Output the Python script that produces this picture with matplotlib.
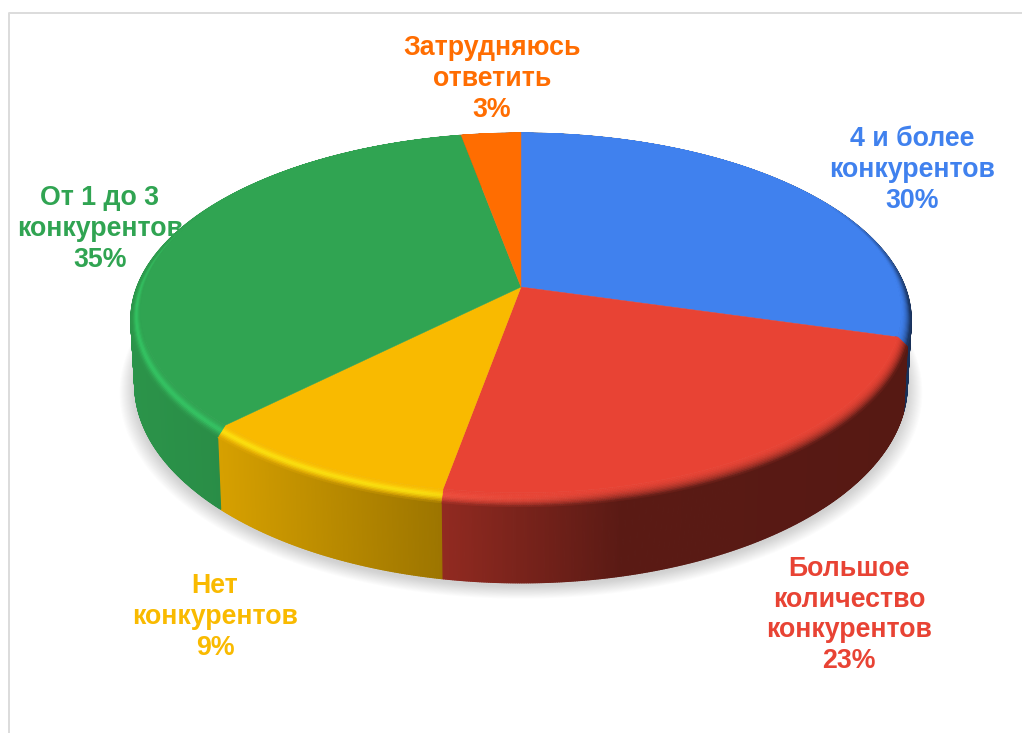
# -*- coding: utf-8 -*-
import numpy as np
import matplotlib
matplotlib.use('Agg')
import matplotlib.pyplot as plt
from matplotlib.collections import PolyCollection
from matplotlib.colors import to_rgb

plt.rcParams['font.family'] = ['Liberation Sans', 'DejaVu Sans']

names = ['4 и более\nконкурентов', 'Большое\nколичество\nконкурентов', 'Нет\nконкурентов',
         'От 1 до 3\nконкурентов', 'Затрудняюсь\nответить']
shares = [30, 22.75, 9.35, 34.9, 3]
colors = ['#4081EE', '#E84334', '#F9BA00', '#30A452', '#FF6D01']
rim_lights = ['#5C98F8', '#F4503F', '#FFE30D', '#34C563', '#FF8020']
label_x = [912, 849, 215, 100, 492]
label_y = [170, 615, 617, 229, 79]

# pie geometry in pixels, the disc is drawn with a perspective divide
CX, CY = 521, 287
A, B, K = 384, 181, 0.1765
DEPTH = 62.6
RIM_X, RIM_Y = 0.975, 14


def outer(t):
    u, v = np.sin(t), np.cos(t)
    w = 1 + K * v
    return CX + A * u / w, CY - B * v / w


def inner(t):
    x, y = outer(t)
    return CX + RIM_X * (x - CX), y - RIM_Y * (1 - np.cos(t)) / 2


def lower(t):
    x, y = outer(t)
    return CX + 0.99 * (x - CX), y + DEPTH / (1 + K * np.cos(t))


def wall_shade(x):
    return np.interp(x, [130, 220, 440, 620, 912], [0.90, 0.86, 0.63, 0.39, 0.37])


fig = plt.figure(figsize=(10.22, 7.33), dpi=100)
ax = fig.add_axes([0, 0, 1, 1])
ax.set_xlim(0, 1022)
ax.set_ylim(733, 0)
ax.axis('off')

# frame of the pasted picture
ax.plot([8.5, 8.5, 1022], [733, 12.5, 12.5], color='#DCDCDC', lw=1.4, zorder=1)

# soft shadow under the pie
ring = np.radians(np.arange(0, 360.5, 1))
lx, ly = lower(ring)
for i in range(16):
    grow = 1 + 0.0026 * i
    ax.fill(CX + grow * (lx - CX), 330 + grow * (ly - 330) + 3 + 0.2 * i, color='#707070',
            alpha=0.02, lw=0, zorder=2)

edges = np.cumsum([0] + shares) / sum(shares) * 2 * np.pi
for i in range(len(shares)):
    base = np.array(to_rgb(colors[i]))
    light = np.array(to_rgb(rim_lights[i]))
    t = np.linspace(edges[i], edges[i + 1], max(int(shares[i] * 16), 4))
    t0, t1 = t[:-1], t[1:]

    # side wall
    x0, y0 = outer(t0)
    x1, y1 = outer(t1)
    x2, y2 = lower(t1)
    x3, y3 = lower(t0)
    quads = np.stack([np.c_[x0, y0], np.c_[x1, y1], np.c_[x2, y2], np.c_[x3, y3]], axis=1)
    wall = [base * wall_shade(x) for x in (x0 + x1) / 2]
    ax.add_collection(PolyCollection(quads, facecolors=wall, edgecolors=wall, linewidths=0.9, zorder=3))

    # bevel between top face and wall
    ix0, iy0 = inner(t0)
    ix1, iy1 = inner(t1)
    steps = 10
    for s in range(steps):
        f0, f1 = s / steps, (s + 1) / steps
        qa = np.c_[ix0 + f0 * (x0 - ix0), iy0 + f0 * (y0 - iy0)]
        qb = np.c_[ix1 + f0 * (x1 - ix1), iy1 + f0 * (y1 - iy1)]
        qc = np.c_[ix1 + f1 * (x1 - ix1), iy1 + f1 * (y1 - iy1)]
        qd = np.c_[ix0 + f1 * (x0 - ix0), iy0 + f1 * (y0 - iy0)]
        band = []
        fm = (f0 + f1) / 2
        for xm, tm in zip((x0 + x1) / 2, (t0 + t1) / 2):
            front = np.clip((0.5 - np.cos(tm)) / 0.6, 0, 1)
            bright = np.clip((620 - xm) / 200, 0, 1)
            glow = np.exp(-((fm - 0.5) / 0.25) ** 2) * bright
            edge = base * wall_shade(xm)
            c = base + (light - base) * glow
            c = c + (edge - c) * fm ** (2 + 2 * bright)
            c = base + (c - base) * front
            band.append(np.clip(c, 0, 1))
        ax.add_collection(PolyCollection(np.stack([qa, qb, qc, qd], axis=1), facecolors=band,
                                         edgecolors=band, linewidths=0.4, zorder=4))

    # top face
    fx, fy = inner(t)
    ax.fill(np.r_[CX, fx], np.r_[CY, fy], color=colors[i], lw=0.3, zorder=5)

    ax.text(label_x[i], label_y[i], f'{names[i]}\n{shares[i]:.0f}%', color=colors[i], fontsize=19.3,
            fontweight='bold', ha='center', va='center', linespacing=1.24, zorder=6)

fig.savefig('out.png', dpi=100)
